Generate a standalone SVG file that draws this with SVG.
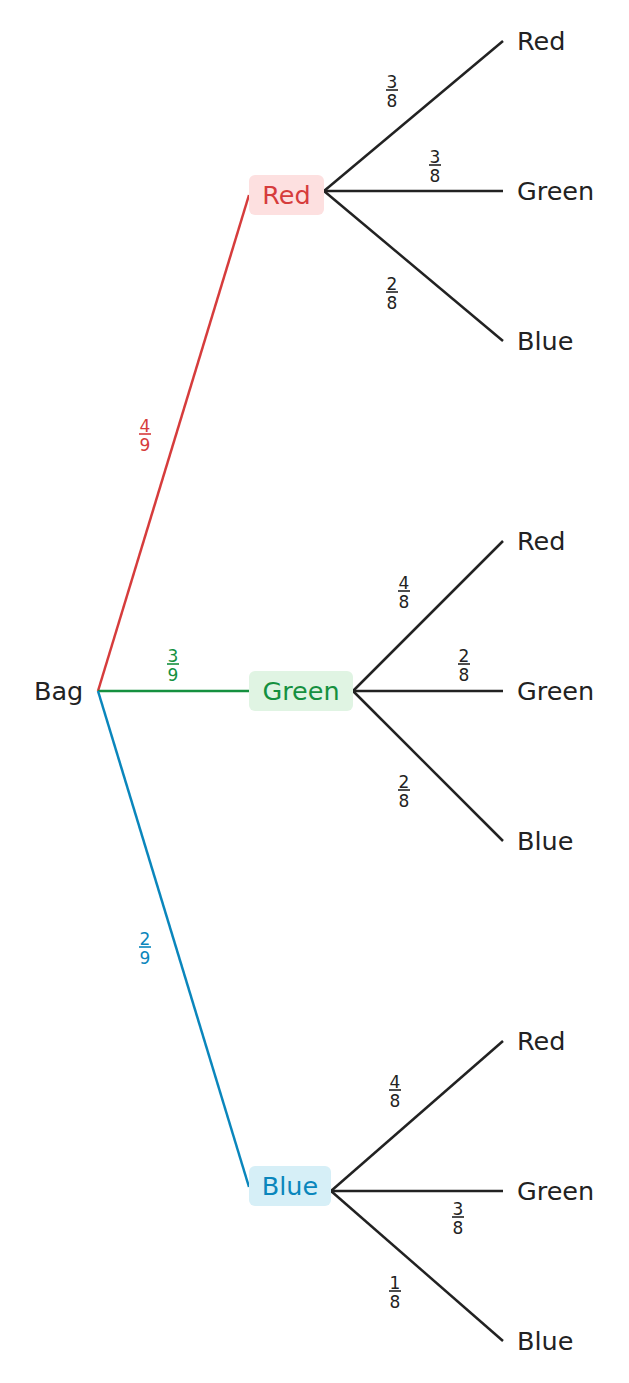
<svg xmlns="http://www.w3.org/2000/svg" width="629" height="1383" viewBox="0 0 629 1383">
<style>
text{font-family:"DejaVu Sans",sans-serif}
.lbl{font-size:25.5px;fill:#222;dominant-baseline:central}
.f{font-size:17px;text-anchor:middle}
.k{fill:#222}.kb{stroke:#222}
.r{fill:#d63c3c}.rb{stroke:#d63c3c}
.g{fill:#15903f}.gb{stroke:#15903f}
.b{fill:#0a86bc}.bb{stroke:#0a86bc}
.e{fill:none;stroke-width:2.5}
.bar{stroke-width:1.6}
</style>
<rect width="629" height="1383" fill="#fff"/>
<g id="connectors">
<line class="e rb" x1="98" y1="691" x2="249" y2="195"/>
<line class="e gb" x1="98" y1="691" x2="249" y2="691"/>
<line class="e bb" x1="98" y1="691" x2="249" y2="1187"/>
<line class="e kb" x1="324" y1="191" x2="503" y2="41"/>
<line class="e kb" x1="324" y1="191" x2="503" y2="191"/>
<line class="e kb" x1="324" y1="191" x2="503" y2="341"/>
<line class="e kb" x1="353" y1="691" x2="503" y2="541"/>
<line class="e kb" x1="353" y1="691" x2="503" y2="691"/>
<line class="e kb" x1="353" y1="691" x2="503" y2="841"/>
<line class="e kb" x1="331" y1="1191" x2="503" y2="1041"/>
<line class="e kb" x1="331" y1="1191" x2="503" y2="1191"/>
<line class="e kb" x1="331" y1="1191" x2="503" y2="1341"/>
</g>
<g id="edge-labels">
<g class="r"><text class="f" x="145" y="432">4</text><line class="bar rb" x1="139" y1="434" x2="151" y2="434"/><text class="f" x="145" y="451">9</text></g>
<g class="g"><text class="f" x="173" y="662">3</text><line class="bar gb" x1="167" y1="664" x2="179" y2="664"/><text class="f" x="173" y="681">9</text></g>
<g class="b"><text class="f" x="145" y="945">2</text><line class="bar bb" x1="139" y1="947" x2="151" y2="947"/><text class="f" x="145" y="964">9</text></g>
<g class="k"><text class="f" x="392" y="88">3</text><line class="bar kb" x1="386" y1="90" x2="398" y2="90"/><text class="f" x="392" y="107">8</text></g>
<g class="k"><text class="f" x="435" y="163">3</text><line class="bar kb" x1="429" y1="165" x2="441" y2="165"/><text class="f" x="435" y="182">8</text></g>
<g class="k"><text class="f" x="392" y="290">2</text><line class="bar kb" x1="386" y1="292" x2="398" y2="292"/><text class="f" x="392" y="309">8</text></g>
<g class="k"><text class="f" x="404" y="589">4</text><line class="bar kb" x1="398" y1="591" x2="410" y2="591"/><text class="f" x="404" y="608">8</text></g>
<g class="k"><text class="f" x="464" y="662">2</text><line class="bar kb" x1="458" y1="664" x2="470" y2="664"/><text class="f" x="464" y="681">8</text></g>
<g class="k"><text class="f" x="404" y="788">2</text><line class="bar kb" x1="398" y1="790" x2="410" y2="790"/><text class="f" x="404" y="807">8</text></g>
<g class="k"><text class="f" x="395" y="1088">4</text><line class="bar kb" x1="389" y1="1090" x2="401" y2="1090"/><text class="f" x="395" y="1107">8</text></g>
<g class="k"><text class="f" x="458" y="1215">3</text><line class="bar kb" x1="452" y1="1217" x2="464" y2="1217"/><text class="f" x="458" y="1234">8</text></g>
<g class="k"><text class="f" x="395" y="1289">1</text><line class="bar kb" x1="389" y1="1291" x2="401" y2="1291"/><text class="f" x="395" y="1308">8</text></g>
</g>
<g id="bag"><text class="lbl" x="34" y="691">Bag</text></g>
<g id="red"><rect x="249" y="175" width="75" height="40" rx="6" fill="#fde0e0"/><text class="lbl r" x="286.5" y="195" text-anchor="middle">Red</text></g>
<g id="green"><rect x="249" y="671" width="104" height="40" rx="6" fill="#e0f4e3"/><text class="lbl g" x="301" y="691" text-anchor="middle">Green</text></g>
<g id="blue"><rect x="249" y="1166" width="82" height="40" rx="6" fill="#d6eff7"/><text class="lbl b" x="290" y="1186" text-anchor="middle">Blue</text></g>
<g id="rr"><text class="lbl" x="517" y="41">Red</text></g>
<g id="rg"><text class="lbl" x="517" y="191">Green</text></g>
<g id="rbl"><text class="lbl" x="517" y="341">Blue</text></g>
<g id="gr"><text class="lbl" x="517" y="541">Red</text></g>
<g id="gg"><text class="lbl" x="517" y="691">Green</text></g>
<g id="gbl"><text class="lbl" x="517" y="841">Blue</text></g>
<g id="br"><text class="lbl" x="517" y="1041">Red</text></g>
<g id="bg"><text class="lbl" x="517" y="1191">Green</text></g>
<g id="bbl"><text class="lbl" x="517" y="1341">Blue</text></g>
</svg>
